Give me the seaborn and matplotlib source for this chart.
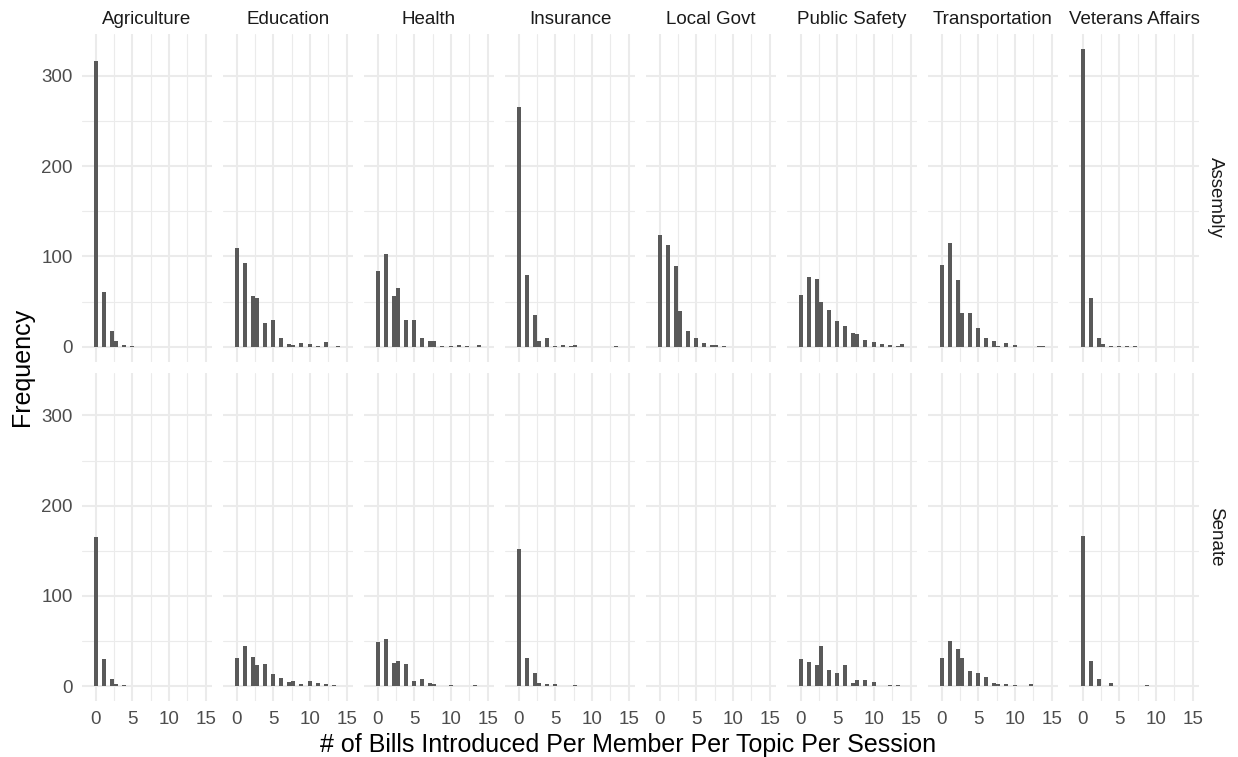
import numpy as np
import pandas as pd
import matplotlib
matplotlib.use("Agg")
import matplotlib.pyplot as plt
import seaborn as sns
from matplotlib.ticker import FixedLocator

topics = ["Agriculture", "Education", "Health", "Insurance", "Local Govt",
          "Public Safety", "Transportation", "Veterans Affairs"]
chambers = ["Assembly", "Senate"]
bill_values = list(range(16))

assembly_counts = {
    "Agriculture":      [317, 60, 17, 6, 2, 1, 0, 0, 0, 0, 0, 0, 0, 0, 0, 0],
    "Education":        [109, 93, 56, 54, 26, 30, 9, 3, 2, 4, 3, 1, 5, 0, 1, 0],
    "Health":           [84, 103, 56, 65, 30, 30, 9, 6, 6, 1, 1, 2, 1, 0, 2, 0],
    "Insurance":        [266, 79, 35, 6, 10, 1, 2, 1, 2, 0, 0, 0, 0, 1, 0, 0],
    "Local Govt":       [124, 113, 89, 40, 17, 9, 4, 2, 2, 1, 0, 0, 0, 0, 0, 0],
    "Public Safety":    [57, 77, 75, 50, 41, 28, 23, 15, 14, 7, 5, 3, 2, 1, 3, 0],
    "Transportation":   [90, 115, 74, 37, 37, 21, 10, 6, 1, 4, 2, 0, 0, 1, 1, 0],
    "Veterans Affairs": [330, 54, 10, 3, 1, 1, 1, 1, 0, 0, 0, 0, 0, 0, 0, 0],
}
senate_counts = {
    "Agriculture":      [165, 30, 8, 2, 1, 0, 0, 0, 0, 0, 0, 0, 0, 0, 0, 0],
    "Education":        [31, 45, 32, 23, 24, 13, 9, 5, 6, 2, 6, 3, 2, 1, 0, 0],
    "Health":           [49, 52, 26, 28, 25, 6, 8, 3, 2, 0, 1, 0, 0, 1, 0, 0],
    "Insurance":        [152, 31, 14, 4, 2, 2, 0, 0, 1, 0, 0, 0, 0, 0, 0, 0],
    "Local Govt":       [0, 0, 0, 0, 0, 0, 0, 0, 0, 0, 0, 0, 0, 0, 0, 0],
    "Public Safety":    [30, 27, 23, 44, 18, 15, 23, 4, 7, 7, 5, 0, 1, 1, 0, 0],
    "Transportation":   [31, 50, 41, 31, 17, 15, 10, 3, 2, 2, 1, 0, 2, 0, 0, 0],
    "Veterans Affairs": [166, 28, 8, 0, 3, 0, 0, 0, 0, 1, 0, 0, 0, 0, 0, 0],
}

rows = []
for chamber, table in (("Assembly", assembly_counts), ("Senate", senate_counts)):
    for t in topics:
        for v, c in zip(bill_values, table[t]):
            rows.append((chamber, t, v, c))
df = pd.DataFrame(rows, columns=["chamber", "topic", "bills", "count"])

sns.set_theme(style="white")
plt.rcParams['font.family'] = ['Liberation Sans', 'DejaVu Sans']

# 30 bins over the data range, right-closed like ggplot
w = 16 / 29
edges = [float(e) for e in (np.arange(31) - 0.5) * w + 1e-7]

g = sns.FacetGrid(df, row="chamber", col="topic", row_order=chambers,
                  col_order=topics, sharex=True, sharey=True, despine=False,
                  height=3, aspect=0.5)
g.map_dataframe(sns.histplot, x="bills", weights="count", bins=edges,
                color="#595959", alpha=1, linewidth=0)

fig = g.figure
fig.set_size_inches(12.38, 7.57)
fig.set_dpi(100)
fig.subplots_adjust(left=82.3/1238, right=1198.7/1238,
                    top=1-34/757, bottom=1-701/757,
                    wspace=0.0896, hspace=0.0366)

grid_col = "#EBEBEB"
for (i, j), ax in np.ndenumerate(g.axes):
    ax.set_facecolor("white")
    for s in ax.spines.values():
        s.set_visible(False)
    ax.set_xlim(-1.8, 15.8)
    ax.set_ylim(-16.5, 346.5)
    ax.xaxis.set_major_locator(FixedLocator([0, 5, 10, 15]))
    ax.xaxis.set_minor_locator(FixedLocator([2.5, 7.5, 12.5]))
    ax.yaxis.set_major_locator(FixedLocator([0, 100, 200, 300]))
    ax.yaxis.set_minor_locator(FixedLocator([50, 150, 250]))
    ax.grid(True, which="major", color=grid_col, linewidth=1.5)
    ax.grid(True, which="minor", color=grid_col, linewidth=0.8)
    ax.set_axisbelow(True)
    ax.tick_params(which="both", length=0, labelsize=13.5, colors="#4D4D4D", pad=7)
    ax.set_xlabel("")
    ax.set_ylabel("")
    ax.set_title("")
    if i == 0:
        ax.set_title(topics[j], fontsize=13.5, color="#1A1A1A", pad=7)
    if j == len(topics) - 1:
        ax.text(1.13, 0.5, chambers[i], transform=ax.transAxes, rotation=270,
                ha="center", va="center", fontsize=13.5, color="#1A1A1A")
    if i != len(chambers) - 1:
        ax.tick_params(labelbottom=False)
    if j != 0:
        ax.tick_params(labelleft=False)

fig.text(628/1238, 1-745/757, "# of Bills Introduced Per Member Per Topic Per Session",
         ha="center", va="center", fontsize=18, color="black")
fig.text(22/1238, 1-367/757, "Frequency", rotation=90,
         ha="center", va="center", fontsize=18, color="black")

fig.savefig("out.png", dpi=100, facecolor="white")
